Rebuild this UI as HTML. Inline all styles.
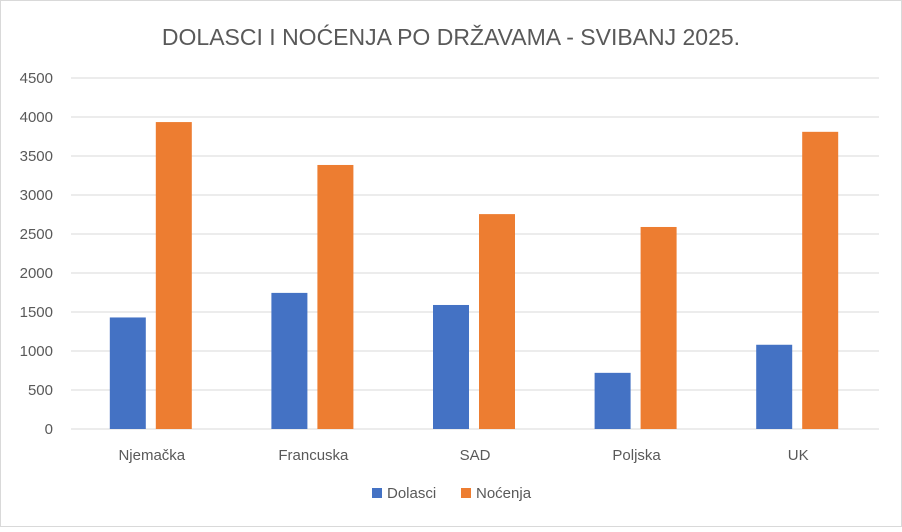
<!DOCTYPE html>
<html><head><meta charset="utf-8"><style>
body{margin:0;background:#fff;}
svg{font-family:"Liberation Sans",sans-serif;}
</style></head><body>
<svg id="chart" width="902" height="527">
<rect x="0.5" y="0.5" width="901" height="526" fill="#fff" stroke="#d9d9d9"/>
<text x="451" y="45" text-anchor="middle" font-size="23" fill="#595959">DOLASCI I NOĆENJA PO DRŽAVAMA - SVIBANJ 2025.</text>
<g id="grid"></g><g id="bars"></g><g id="labels"></g>
<g>
<rect x="372" y="488" width="10" height="10" fill="#4472c4"/>
<text x="387" y="498" font-size="15" fill="#595959">Dolasci</text>
<rect x="461" y="488" width="10" height="10" fill="#ed7d31"/>
<text x="476" y="498" font-size="15" fill="#595959">Noćenja</text>
</g>
</svg>
<script>
const categories=["Njemačka","Francuska","SAD","Poljska","UK"];
const dolasci=[1430,1745,1590,720,1080];
const nocenja=[3935,3385,2755,2590,3810];
const ticks=[0,500,1000,1500,2000,2500,3000,3500,4000,4500];
const ns="http://www.w3.org/2000/svg";
const x0=71,x1=879,y0=429,y1=78,maxV=4500;
const y=v=>y0-(v/maxV)*(y0-y1);
const band=(x1-x0)/categories.length;
const cx=i=>x0+band*(i+0.5);
function mk(t,a,p){const e=document.createElementNS(ns,t);for(const k in a)e.setAttribute(k,a[k]);p.appendChild(e);return e;}
const g=document.getElementById('grid'),b=document.getElementById('bars'),l=document.getElementById('labels');
ticks.forEach(t=>{
 const ln=mk('line',{x1:x0,x2:x1,y1:y(t),y2:y(t),stroke:'#d9d9d9','stroke-width':1},g);
 
 
 const tx=mk('text',{x:53,y:y(t)+5,'text-anchor':'end','font-size':15,fill:'#595959'},l);
 tx.textContent=t;
 
 
});
categories.forEach((c,i)=>{
 const r1=mk('rect',{x:cx(i)-42,y:y(dolasci[i]),width:36,height:y0-y(dolasci[i]),fill:'#4472c4'},b);
 
 
 const r2=mk('rect',{x:cx(i)+4,y:y(nocenja[i]),width:36,height:y0-y(nocenja[i]),fill:'#ed7d31'},b);
 
 
 const tx=mk('text',{x:cx(i),y:460,'text-anchor':'middle','font-size':15,fill:'#595959'},l);
 tx.textContent=c;
 
 
});
</script>
</body></html>
